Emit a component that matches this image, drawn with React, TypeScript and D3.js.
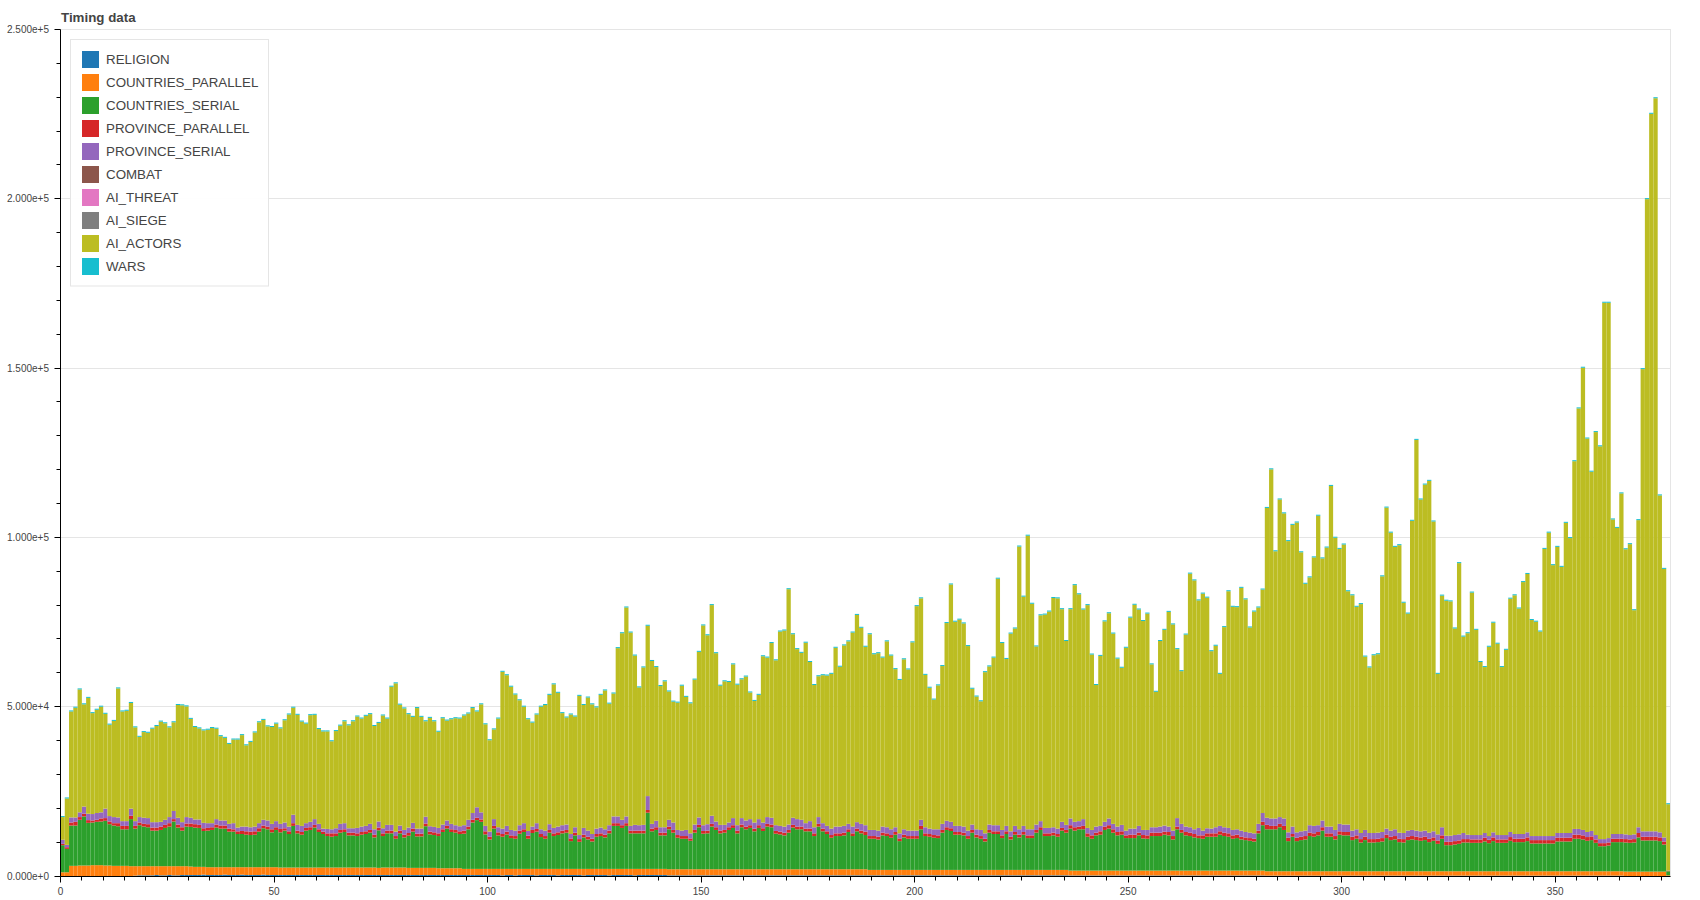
import React from "react";
import * as d3 from "d3";

const TITLE = "Timing data";
const SERIES_NAMES = [
  "RELIGION",
  "COUNTRIES_PARALLEL",
  "COUNTRIES_SERIAL",
  "PROVINCE_PARALLEL",
  "PROVINCE_SERIAL",
  "COMBAT",
  "AI_THREAT",
  "AI_SIEGE",
  "AI_ACTORS",
  "WARS",
];
const SERIES_COLORS = [
  "#1f77b4", "#ff7f0e", "#2ca02c", "#d62728", "#9467bd",
  "#8c564b", "#e377c2", "#7f7f7f", "#bcbd22", "#17becf",
];
const X_TICKS = [0, 50, 100, 150, 200, 250, 300, 350];
const Y_TICKS = [0, 50000, 100000, 150000, 200000, 250000];
const N_BARS = 377;

// all series values in thousands, one entry per bar (index 0..376)
const RELIGION = [
  0, 0, 0, 0, 0, 0, 0, 0, 0, 0,
  0, 0, 0, 0, 0, 0, 0, 0.1, 0.2, 0.2,
  0.2, 0.2, 0.3, 0.2, 0.2, 0.3, 0.2, 0.2, 0.3, 0.3,
  0.3, 0.3, 0.3, 0.4, 0.3, 0.3, 0.3, 0.3, 0.4, 0.3,
  0.3, 0.3, 0.4, 0.3, 0.3, 0.3, 0.3, 0.4, 0.3, 0.3,
  0.3, 0.3, 0.3, 0.3, 0.3, 0.3, 0.3, 0.3, 0.3, 0.3,
  0.3, 0.3, 0.3, 0.3, 0.3, 0.3, 0.3, 0.3, 0.3, 0.3,
  0.3, 0.3, 0.3, 0.3, 0.3, 0.3, 0.3, 0.3, 0.3, 0.3,
  0.3, 0.3, 0.3, 0.3, 0.3, 0.3, 0.3, 0.3, 0.3, 0.3,
  0.3, 0.3, 0.3, 0.3, 0.3, 0.3, 0.3, 0.3, 0.3, 0.3,
  0.3, 0.3, 0.3, 0.2, 0.3, 0.3, 0.2, 0.3, 0.3, 0.3,
  0.3, 0.2, 0.3, 0.3, 0.3, 0.3, 0.2, 0.3, 0.3, 0.3,
  0.3, 0.3, 0.2, 0.3, 0.3, 0.3, 0.3, 0.3, 0.2, 0.3,
  0.3, 0.3, 0.3, 0.3, 0.2, 0.3, 0.3, 0.3, 0.3, 0.3,
  0.3, 0.3, 0.2, 0.2, 0.2, 0.2, 0.2, 0.2, 0.2, 0.2,
  0.2, 0.2, 0.2, 0.2, 0.2, 0.2, 0.2, 0.2, 0.2, 0.2,
  0.2, 0.2, 0.2, 0.2, 0.2, 0.2, 0.2, 0.2, 0.2, 0.2,
  0.2, 0.2, 0.2, 0.2, 0.2, 0.2, 0.2, 0.2, 0.2, 0.2,
  0.2, 0.2, 0.2, 0.2, 0.2, 0.2, 0.2, 0.2, 0.2, 0.2,
  0.2, 0.2, 0.2, 0.2, 0.2, 0.2, 0.2, 0.2, 0.2, 0.2,
  0.2, 0.2, 0.2, 0.2, 0.2, 0.2, 0.2, 0.2, 0.2, 0.2,
  0.2, 0.2, 0.2, 0.2, 0.2, 0.2, 0.2, 0.2, 0.2, 0.2,
  0.2, 0.2, 0.2, 0.2, 0.2, 0.2, 0.2, 0.2, 0.2, 0.2,
  0.2, 0.2, 0.2, 0.2, 0.2, 0.2, 0.15, 0.15, 0.15, 0.15,
  0.15, 0.15, 0.15, 0.15, 0.15, 0.15, 0.15, 0.15, 0.15, 0.15,
  0.15, 0.15, 0.15, 0.15, 0.15, 0.15, 0.15, 0.15, 0.15, 0.15,
  0.15, 0.15, 0.15, 0.15, 0.15, 0.15, 0.15, 0.15, 0.15, 0.15,
  0.15, 0.15, 0.15, 0.15, 0.15, 0.15, 0.15, 0.15, 0.15, 0.15,
  0.15, 0.15, 0.1, 0.1, 0.1, 0.1, 0.1, 0.1, 0.1, 0.1,
  0.1, 0.1, 0.1, 0.1, 0.1, 0.1, 0.1, 0.1, 0.1, 0.1,
  0.1, 0.1, 0.1, 0.1, 0.1, 0.1, 0.1, 0.1, 0.1, 0.1,
  0.1, 0.1, 0.1, 0.1, 0.1, 0.1, 0.1, 0.1, 0.1, 0.1,
  0.1, 0.1, 0.1, 0.1, 0.1, 0.1, 0.1, 0.1, 0.1, 0.1,
  0.1, 0.1, 0.1, 0.1, 0.1, 0.1, 0.1, 0.1, 0.1, 0.1,
  0.1, 0.1, 0.1, 0.1, 0.1, 0.1, 0.1, 0.1, 0.1, 0.1,
  0.1, 0.1, 0.1, 0.1, 0.1, 0.1, 0.1, 0.1, 0.1, 0.1,
  0.1, 0.1, 0.1, 0.1, 0.1, 0.1, 0,
];

const COUNTRIES_PARALLEL = [
  1.1, 1.1, 3.0, 3.0, 3.1, 3.1, 3.1, 3.2, 3.2, 3.2,
  3.1, 3.1, 3.0, 3.0, 3.0, 3.0, 2.9, 2.8, 2.7, 2.7,
  2.7, 2.7, 2.6, 2.7, 2.7, 2.6, 2.7, 2.7, 2.6, 2.6,
  2.5, 2.4, 2.4, 2.3, 2.3, 2.3, 2.3, 2.3, 2.2, 2.3,
  2.3, 2.3, 2.2, 2.3, 2.3, 2.3, 2.3, 2.2, 2.3, 2.3,
  2.3, 2.2, 2.2, 2.2, 2.2, 2.2, 2.2, 2.2, 2.2, 2.2,
  2.2, 2.2, 2.2, 2.2, 2.2, 2.2, 2.2, 2.2, 2.2, 2.2,
  2.2, 2.2, 2.2, 2.2, 2.1, 2.2, 2.2, 2.2, 2.2, 2.2,
  2.2, 2.1, 2.1, 2.1, 2.1, 2.1, 2.1, 2.1, 2.0, 2.0,
  2.0, 2.0, 2.0, 2.0, 1.8, 1.8, 1.8, 1.8, 1.8, 1.8,
  1.8, 1.8, 1.8, 1.9, 1.8, 1.8, 1.9, 1.8, 1.8, 1.8,
  1.8, 1.9, 1.8, 1.8, 1.8, 1.8, 1.9, 1.8, 1.8, 1.8,
  1.8, 1.8, 1.9, 1.8, 1.8, 1.8, 1.8, 1.8, 1.9, 1.8,
  1.8, 1.8, 1.8, 1.8, 1.9, 1.8, 1.8, 1.8, 1.8, 1.8,
  1.8, 1.8, 1.8, 1.8, 1.8, 1.8, 1.8, 1.8, 1.8, 1.8,
  1.8, 1.8, 1.8, 1.8, 1.8, 1.8, 1.8, 1.8, 1.8, 1.8,
  1.8, 1.8, 1.8, 1.8, 1.8, 1.8, 1.8, 1.8, 1.8, 1.8,
  1.8, 1.8, 1.8, 1.8, 1.8, 1.8, 1.8, 1.8, 1.8, 1.8,
  1.8, 1.8, 1.8, 1.8, 1.8, 1.8, 1.8, 1.8, 1.8, 1.6,
  1.6, 1.6, 1.6, 1.6, 1.6, 1.6, 1.6, 1.6, 1.6, 1.6,
  1.6, 1.6, 1.6, 1.6, 1.6, 1.6, 1.6, 1.6, 1.6, 1.6,
  1.6, 1.6, 1.6, 1.6, 1.6, 1.6, 1.6, 1.6, 1.6, 1.6,
  1.6, 1.6, 1.6, 1.6, 1.6, 1.6, 1.6, 1.6, 1.6, 1.6,
  1.6, 1.6, 1.6, 1.6, 1.6, 1.6, 1.45, 1.45, 1.45, 1.45,
  1.45, 1.45, 1.45, 1.45, 1.45, 1.45, 1.45, 1.45, 1.45, 1.45,
  1.45, 1.45, 1.45, 1.45, 1.45, 1.45, 1.45, 1.45, 1.45, 1.45,
  1.45, 1.45, 1.45, 1.45, 1.45, 1.45, 1.45, 1.45, 1.45, 1.45,
  1.45, 1.45, 1.45, 1.45, 1.45, 1.45, 1.45, 1.45, 1.45, 1.45,
  1.45, 1.45, 1.3, 1.3, 1.3, 1.3, 1.3, 1.3, 1.3, 1.3,
  1.3, 1.3, 1.3, 1.3, 1.3, 1.3, 1.3, 1.3, 1.3, 1.3,
  1.3, 1.3, 1.3, 1.3, 1.3, 1.3, 1.3, 1.3, 1.3, 1.3,
  1.3, 1.3, 1.3, 1.3, 1.3, 1.3, 1.3, 1.3, 1.3, 1.3,
  1.3, 1.3, 1.3, 1.3, 1.3, 1.3, 1.3, 1.3, 1.3, 1.3,
  1.3, 1.3, 1.3, 1.3, 1.3, 1.3, 1.3, 1.3, 1.3, 1.3,
  1.3, 1.3, 1.3, 1.3, 1.3, 1.3, 1.3, 1.3, 1.3, 1.3,
  1.3, 1.3, 1.3, 1.3, 1.3, 1.3, 1.3, 1.3, 1.3, 1.3,
  1.3, 1.3, 1.3, 1.3, 1.3, 1.3, 1.3, 1.3, 1.3, 1.3,
  1.3, 1.3, 1.3, 1.3, 1.3, 1.3, 0.2,
];

const COUNTRIES_SERIAL = [
  8.0, 6.9, 11.9, 11.9, 13.5, 14.5, 12.6, 12.6, 12.8, 12.9,
  13.2, 12.2, 11.9, 11.7, 10.8, 10.8, 13.9, 11.1, 12.1, 11.7,
  11.5, 10.5, 10.5, 10.7, 11.3, 11.7, 13.2, 11.4, 10.5, 11.7,
  11.7, 11.6, 11.5, 10.6, 10.8, 11.0, 11.7, 11.4, 11.4, 10.5,
  10.5, 9.8, 9.8, 9.6, 9.5, 9.6, 10.5, 11.5, 11.2, 10.3,
  11.0, 10.4, 10.9, 9.9, 12.3, 10.1, 9.7, 10.9, 11.1, 11.8,
  10.5, 9.9, 9.3, 9.1, 9.3, 10.3, 10.5, 9.5, 9.5, 9.3,
  9.7, 9.9, 10.3, 8.9, 11.1, 9.3, 10.1, 10.1, 8.5, 10.1,
  8.9, 9.5, 10.7, 9.3, 9.3, 12.3, 9.9, 9.7, 9.5, 10.7,
  11.7, 10.7, 10.5, 10.1, 10.4, 11.7, 13.7, 14.4, 13.9, 10.2,
  8.7, 11.9, 9.9, 9.5, 10.1, 9.1, 8.9, 10.4, 10.9, 8.9,
  10.6, 11.0, 9.4, 8.9, 10.7, 9.7, 10.0, 10.5, 10.7, 8.2,
  9.9, 8.0, 9.3, 8.7, 8.1, 9.5, 9.7, 9.3, 10.5, 12.7,
  12.7, 12.1, 12.7, 10.5, 10.5, 10.5, 10.5, 16.6, 11.1, 11.5,
  9.9, 9.9, 11.8, 10.8, 9.3, 9.0, 9.0, 8.4, 10.8, 12.4,
  10.5, 10.6, 12.6, 11.6, 10.6, 10.8, 11.6, 12.2, 10.6, 12.4,
  11.8, 12.2, 11.2, 12.2, 11.3, 12.6, 12.4, 10.5, 10.3, 10.0,
  10.8, 12.3, 11.8, 11.8, 11.2, 11.2, 9.8, 12.6, 11.2, 10.4,
  9.3, 9.8, 9.8, 10.0, 11.0, 9.8, 11.2, 10.6, 10.1, 9.2,
  9.2, 9.0, 10.2, 10.0, 9.5, 10.4, 8.5, 9.6, 9.2, 9.2,
  9.2, 12.0, 10.0, 9.8, 9.5, 9.4, 11.0, 11.8, 11.5, 10.4,
  10.4, 10.2, 9.2, 11.0, 9.6, 9.2, 8.4, 11.0, 10.6, 10.6,
  9.4, 10.6, 9.0, 10.4, 9.6, 10.4, 9.4, 9.4, 11.0, 11.8,
  10.0, 10.0, 10.2, 9.8, 11.6, 11.0, 12.4, 11.8, 12.2, 12.2,
  10.0, 9.4, 10.4, 10.6, 12.0, 12.4, 11.2, 10.4, 10.6, 9.6,
  9.6, 9.6, 10.4, 9.5, 9.4, 10.2, 10.2, 10.2, 10.6, 10.4,
  9.2, 12.2, 11.2, 10.4, 10.2, 9.8, 9.6, 9.4, 10.0, 10.0,
  10.0, 10.6, 10.2, 10.0, 9.4, 9.6, 9.2, 9.0, 8.8, 8.6,
  11.0, 13.4, 12.4, 12.4, 12.4, 13.0, 12.2, 8.9, 10.2, 8.9,
  9.2, 9.4, 10.4, 10.2, 10.6, 12.0, 10.2, 10.2, 9.4, 10.8,
  10.6, 10.6, 9.2, 9.6, 8.5, 9.2, 8.5, 8.5, 8.6, 8.8,
  9.8, 9.2, 9.4, 8.6, 8.5, 9.2, 9.4, 9.2, 9.0, 9.2,
  8.6, 9.0, 8.1, 9.6, 7.7, 7.7, 7.9, 8.1, 8.5, 8.5,
  8.4, 8.4, 8.4, 8.8, 8.3, 8.9, 8.4, 8.4, 8.4, 9.0,
  8.6, 8.6, 8.6, 8.9, 8.2, 8.2, 8.2, 8.2, 8.2, 8.2,
  8.8, 8.8, 8.8, 8.8, 9.6, 9.6, 9.4, 9.0, 9.2, 8.4,
  7.4, 7.4, 7.6, 8.6, 8.6, 8.6, 8.6, 8.5, 8.6, 10.1,
  9.2, 9.2, 9.2, 9.2, 9.0, 8.0, 1.2,
];

const PROVINCE_PARALLEL = [
  0.4, 0.5, 0.9, 1.1, 0.8, 0.8, 0.8, 0.6, 0.6, 0.9,
  0.8, 0.8, 0.7, 0.9, 1.0, 1.0, 1.0, 0.8, 0.8, 0.8,
  0.9, 0.9, 0.9, 1.0, 0.9, 1.0, 0.7, 0.9, 1.0, 0.9,
  1.0, 1.0, 0.9, 0.8, 0.8, 0.8, 0.9, 0.9, 0.9, 0.9,
  0.7, 0.8, 0.9, 1.0, 1.0, 1.0, 1.0, 0.8, 0.8, 0.9,
  0.8, 1.0, 0.7, 0.8, 0.8, 0.8, 0.8, 0.8, 0.8, 0.8,
  0.8, 0.7, 0.8, 1.0, 0.8, 0.8, 0.8, 0.8, 0.8, 0.8,
  0.8, 0.8, 0.8, 0.8, 0.8, 0.8, 0.8, 0.8, 0.8, 0.8,
  0.8, 0.8, 0.9, 0.8, 0.8, 0.8, 0.8, 0.8, 0.8, 0.8,
  0.8, 0.8, 0.8, 0.8, 0.9, 0.8, 0.8, 0.7, 0.7, 0.9,
  0.8, 0.8, 0.9, 0.8, 0.9, 0.8, 0.8, 0.9, 0.8, 0.9,
  0.9, 0.8, 0.9, 0.8, 0.8, 0.8, 0.8, 0.8, 0.8, 0.8,
  0.8, 0.8, 0.8, 0.8, 0.8, 0.8, 0.8, 0.8, 0.8, 0.8,
  0.8, 0.8, 0.8, 0.8, 0.8, 0.8, 0.8, 0.8, 0.8, 0.8,
  0.8, 0.8, 0.8, 0.8, 0.8, 0.8, 0.8, 0.7, 0.8, 0.7,
  0.8, 0.8, 0.8, 0.8, 0.8, 0.8, 0.8, 0.8, 0.8, 0.8,
  0.8, 0.8, 0.8, 0.8, 0.8, 0.8, 0.8, 0.8, 0.8, 0.8,
  0.8, 0.8, 0.8, 0.8, 0.8, 0.8, 0.8, 0.8, 0.8, 0.8,
  0.8, 0.8, 0.8, 0.8, 0.8, 0.8, 0.8, 0.8, 1.0, 0.8,
  0.8, 0.8, 0.8, 0.8, 0.8, 0.8, 0.8, 0.8, 0.8, 0.8,
  0.8, 1.0, 0.8, 0.8, 0.8, 0.8, 0.8, 0.8, 0.8, 0.8,
  0.8, 0.8, 0.8, 0.8, 0.8, 0.8, 0.8, 0.8, 0.8, 0.8,
  0.8, 0.8, 0.8, 0.8, 0.8, 0.8, 0.8, 0.8, 0.8, 0.8,
  0.8, 0.8, 0.8, 0.8, 0.8, 0.8, 1.0, 1.0, 0.8, 1.0,
  1.0, 1.0, 0.8, 1.0, 1.0, 1.0, 1.0, 1.0, 1.0, 0.8,
  1.0, 1.0, 0.8, 1.0, 1.0, 1.0, 1.0, 1.0, 0.9, 1.0,
  1.0, 0.8, 0.8, 1.0, 1.0, 1.0, 0.8, 1.0, 1.0, 1.0,
  1.0, 1.0, 1.0, 1.0, 1.0, 1.0, 0.8, 0.8, 0.8, 0.8,
  0.8, 1.0, 1.3, 1.0, 1.0, 1.0, 1.2, 1.0, 0.8, 1.0,
  1.0, 1.0, 1.0, 1.0, 1.0, 1.0, 1.0, 1.0, 1.0, 1.0,
  1.0, 1.0, 1.0, 1.0, 1.0, 1.0, 1.0, 1.0, 1.0, 1.0,
  1.0, 1.0, 1.0, 1.0, 1.0, 1.0, 1.0, 1.0, 1.0, 1.0,
  1.0, 1.0, 1.0, 1.0, 1.0, 1.0, 1.0, 1.0, 1.0, 1.0,
  1.0, 1.0, 1.0, 1.1, 1.0, 1.1, 1.0, 1.0, 1.0, 1.1,
  1.0, 1.0, 1.0, 1.1, 1.0, 1.0, 1.0, 1.0, 1.0, 1.0,
  1.1, 1.1, 1.1, 1.1, 1.2, 1.2, 1.2, 1.1, 1.1, 1.0,
  0.9, 0.9, 0.9, 1.0, 1.0, 1.0, 1.0, 1.0, 1.0, 1.3,
  1.1, 1.1, 1.1, 1.1, 1.1, 0.9, 0.1,
];

const PROVINCE_SERIAL = [
  1.2, 0.7, 1.5, 1.3, 1.4, 2.1, 1.9, 1.9, 2.0, 1.8,
  2.8, 1.6, 1.8, 1.7, 1.4, 1.4, 2.1, 1.4, 1.6, 1.8,
  1.8, 1.6, 1.6, 1.4, 1.5, 1.8, 2.4, 2.0, 1.5, 1.9,
  1.7, 1.4, 1.6, 1.6, 1.4, 1.2, 1.6, 1.5, 1.5, 1.4,
  1.8, 1.1, 1.3, 1.4, 1.3, 1.4, 1.5, 1.7, 1.8, 1.6,
  1.8, 1.5, 1.7, 1.4, 2.5, 1.7, 1.8, 1.4, 1.6, 1.7,
  1.6, 0.9, 1.3, 1.2, 1.5, 1.8, 1.8, 1.3, 1.3, 1.6,
  1.6, 1.6, 1.8, 1.6, 1.8, 1.5, 1.7, 1.7, 1.3, 1.5,
  1.4, 1.6, 1.7, 1.5, 1.5, 2.0, 1.6, 1.6, 1.6, 1.4,
  1.6, 1.6, 1.4, 1.5, 1.6, 2.0, 2.0, 3.1, 2.1, 1.6,
  1.5, 2.0, 1.5, 1.6, 1.7, 1.6, 1.6, 1.6, 1.8, 1.4,
  1.0, 1.7, 1.4, 1.6, 1.7, 1.6, 1.7, 1.6, 1.6, 1.3,
  1.6, 1.2, 2.0, 1.8, 1.4, 1.6, 1.7, 1.6, 1.6, 2.0,
  2.0, 1.6, 2.0, 1.4, 1.7, 1.6, 1.7, 4.1, 1.4, 1.9,
  1.6, 1.6, 2.0, 2.2, 1.5, 1.6, 1.8, 1.5, 1.6, 2.2,
  1.7, 1.9, 2.4, 1.7, 1.7, 1.5, 1.4, 2.1, 1.6, 1.9,
  1.8, 1.8, 1.8, 1.8, 1.7, 2.0, 2.0, 1.7, 1.7, 1.8,
  1.6, 2.1, 2.2, 2.0, 1.6, 2.2, 1.8, 2.0, 1.6, 1.6,
  1.9, 2.0, 2.0, 2.0, 1.6, 2.0, 1.9, 2.0, 1.9, 1.8,
  1.8, 1.8, 1.8, 1.8, 1.7, 1.4, 1.5, 1.6, 1.6, 1.6,
  1.6, 1.8, 1.8, 1.6, 1.7, 1.8, 1.8, 1.9, 1.9, 1.8,
  1.8, 1.8, 1.6, 1.6, 1.6, 1.8, 1.6, 1.6, 1.8, 1.8,
  1.6, 1.6, 1.6, 1.8, 1.6, 1.8, 1.8, 1.8, 1.6, 1.8,
  1.6, 1.6, 1.6, 1.6, 1.8, 1.5, 2.0, 1.6, 1.6, 2.0,
  1.6, 1.6, 1.8, 1.6, 1.4, 2.0, 1.6, 1.6, 1.9, 1.4,
  1.8, 1.8, 2.0, 1.5, 1.6, 1.6, 1.6, 1.8, 1.8, 1.6,
  1.6, 2.5, 1.8, 1.6, 1.6, 1.4, 2.2, 1.4, 1.5, 1.4,
  1.8, 1.6, 1.6, 1.6, 1.6, 1.6, 1.8, 1.6, 1.6, 1.6,
  2.0, 2.6, 2.1, 2.2, 2.2, 2.0, 2.2, 1.6, 2.2, 1.6,
  1.6, 1.6, 2.2, 2.2, 2.0, 2.0, 2.0, 2.0, 1.8, 2.2,
  2.2, 2.2, 1.8, 1.8, 1.8, 2.0, 1.8, 1.8, 1.8, 1.8,
  1.8, 1.8, 2.0, 1.8, 1.8, 1.8, 1.8, 1.8, 1.8, 1.8,
  1.8, 1.8, 1.8, 2.4, 1.8, 1.8, 1.8, 1.8, 1.8, 1.3,
  1.3, 1.3, 1.3, 1.4, 1.1, 1.5, 1.3, 1.3, 1.3, 1.5,
  1.4, 1.4, 1.4, 1.5, 1.2, 1.2, 1.2, 1.2, 1.2, 1.2,
  1.4, 1.4, 1.4, 1.4, 1.7, 1.7, 1.6, 1.5, 1.6, 1.3,
  1.2, 1.2, 1.3, 1.4, 1.4, 1.4, 1.4, 1.3, 1.4, 1.7,
  1.6, 1.6, 1.6, 1.6, 1.5, 1.2, 0.1,
];

const COMBAT = [
  0, 0, 0, 0, 0, 0, 0, 0, 0, 0, 0, 0, 0, 0, 0, 0, 0, 0, 0, 0,
  0, 0, 0, 0, 0, 0, 0, 0, 0, 0, 0, 0, 0, 0, 0, 0, 0, 0, 0, 0,
  0, 0, 0, 0, 0, 0, 0, 0, 0, 0, 0, 0, 0, 0, 0, 0, 0, 0, 0, 0,
  0, 0, 0, 0, 0, 0, 0, 0, 0, 0, 0, 0, 0, 0, 0, 0, 0, 0, 0, 0,
  0, 0, 0, 0, 0, 0, 0, 0, 0, 0, 0, 0, 0, 0, 0, 0, 0, 0, 0, 0,
  0, 0, 0, 0, 0, 0, 0, 0, 0, 0, 0, 0, 0, 0, 0, 0, 0, 0, 0, 0,
  0, 0, 0, 0, 0, 0, 0, 0, 0, 0, 0, 0, 0, 0, 0, 0, 0, 0, 0, 0,
  0, 0, 0, 0, 0, 0, 0, 0, 0, 0, 0, 0, 0, 0, 0, 0, 0, 0, 0, 0,
  0, 0, 0, 0, 0, 0, 0, 0, 0, 0, 0, 0, 0, 0, 0, 0, 0, 0, 0, 0,
  0, 0, 0, 0, 0, 0, 0, 0, 0, 0, 0, 0, 0, 0, 0, 0, 0, 0, 0, 0,
  0, 0, 0, 0, 0, 0, 0, 0, 0, 0, 0, 0, 0, 0, 0, 0, 0, 0, 0, 0,
  0, 0, 0, 0, 0, 0, 0, 0, 0, 0, 0, 0, 0, 0, 0, 0, 0, 0, 0, 0,
  0, 0, 0, 0, 0, 0, 0, 0, 0, 0, 0, 0, 0, 0, 0, 0, 0, 0, 0, 0,
  0, 0, 0, 0, 0, 0, 0, 0, 0, 0, 0, 0, 0, 0, 0, 0, 0, 0, 0, 0,
  0, 0, 0, 0, 0, 0, 0, 0, 0, 0, 0, 0, 0, 0, 0, 0, 0, 0, 0, 0,
  0, 0, 0, 0, 0, 0, 0, 0, 0, 0, 0, 0, 0, 0, 0, 0, 0, 0, 0, 0,
  0, 0, 0, 0, 0, 0, 0, 0, 0, 0, 0, 0, 0, 0, 0, 0, 0, 0, 0, 0,
  0, 0, 0, 0, 0, 0, 0, 0, 0, 0, 0, 0, 0, 0, 0, 0, 0, 0, 0, 0,
  0, 0, 0, 0, 0, 0, 0, 0, 0, 0, 0, 0, 0, 0, 0, 0, 0,
];
const AI_THREAT = COMBAT.slice();
const AI_SIEGE = COMBAT.slice();

const AI_ACTORS = [
  6.7, 13.7, 31.3, 32.4, 36.3, 30.2, 34.2, 29.8, 30.5, 31.2,
  28.0, 27.0, 28.4, 38.1, 32.4, 32.6, 31.2, 27.7, 23.7, 25.3,
  25.2, 27.6, 28.4, 29.6, 28.5, 26.5, 26.2, 33.3, 34.5, 32.7,
  29.2, 27.3, 26.9, 27.3, 27.6, 28.1, 26.7, 24.9, 24.4, 23.6,
  24.7, 26.0, 27.0, 24.0, 25.2, 27.8, 29.8, 29.5, 27.8, 28.6,
  28.8, 28.2, 30.2, 33.1, 31.6, 32.5, 30.8, 29.4, 31.5, 30.8,
  28.0, 28.7, 28.8, 26.0, 28.7, 29.0, 30.1, 30.4, 31.6, 32.9,
  31.9, 32.5, 32.4, 30.5, 29.1, 33.3, 31.4, 40.8, 43.8, 35.7,
  35.9, 33.5, 31.3, 35.6, 33.0, 28.2, 32.0, 31.2, 28.4, 31.4,
  29.5, 30.9, 31.6, 31.8, 32.4, 31.4, 31.0, 28.3, 31.9, 30.0,
  27.0, 26.5, 32.1, 46.3, 44.5, 42.3, 40.2, 36.9, 34.4, 33.0,
  30.7, 32.1, 36.2, 37.1, 38.2, 42.4, 39.5, 33.1, 31.6, 35.3,
  32.7, 41.1, 36.3, 39.3, 38.3, 35.8, 39.2, 41.0, 35.9, 36.3,
  49.7, 55.1, 61.7, 57.1, 50.0, 40.7, 46.5, 50.3, 48.1, 45.4,
  41.7, 43.1, 37.9, 35.7, 37.6, 42.8, 39.3, 38.4, 42.8, 48.9,
  59.0, 55.8, 62.2, 49.7, 41.1, 42.4, 41.5, 45.4, 41.5, 41.0,
  42.5, 37.4, 35.9, 36.7, 49.1, 47.1, 51.6, 48.7, 57.4, 57.9,
  69.5, 54.2, 50.2, 49.3, 53.3, 47.0, 42.0, 41.6, 43.7, 44.4,
  45.7, 52.8, 47.2, 53.3, 53.9, 57.3, 61.2, 57.9, 52.7, 57.8,
  51.9, 52.4, 49.9, 54.9, 51.3, 46.7, 45.3, 50.2, 47.6, 55.6,
  66.3, 65.4, 45.0, 41.6, 38.3, 42.5, 46.6, 58.4, 70.1, 60.3,
  60.9, 60.0, 54.5, 40.1, 39.2, 38.0, 47.6, 46.7, 49.5, 72.8,
  55.2, 49.3, 58.4, 58.3, 83.5, 67.7, 86.7, 66.6, 52.6, 60.8,
  63.0, 63.9, 67.7, 68.0, 62.8, 54.3, 61.8, 69.9, 67.0, 61.9,
  65.8, 51.8, 41.8, 50.2, 59.2, 60.6, 56.2, 49.6, 46.4, 54.0,
  62.3, 66.1, 63.9, 61.7, 63.9, 48.1, 40.0, 54.8, 57.8, 63.4,
  60.9, 49.9, 45.1, 56.7, 74.9, 73.5, 67.2, 70.0, 68.1, 52.4,
  53.6, 44.9, 59.1, 69.9, 65.9, 65.6, 71.7, 68.7, 60.6, 65.5,
  63.9, 66.0, 91.5, 103.1, 78.9, 93.8, 90.1, 86.0, 89.1, 91.5,
  82.4, 72.9, 73.2, 79.3, 91.4, 77.4, 82.4, 100.6, 86.3, 81.2,
  82.7, 68.9, 69.5, 65.7, 67.6, 51.2, 48.9, 52.5, 52.7, 75.5,
  94.8, 88.0, 83.4, 84.9, 68.0, 64.1, 91.3, 115.4, 98.0, 102.2,
  103.9, 91.5, 47.4, 68.4, 69.4, 69.2, 61.0, 80.1, 58.0, 59.5,
  71.6, 60.6, 51.1, 49.0, 55.9, 61.9, 56.5, 49.6, 54.7, 68.9,
  70.5, 66.6, 74.4, 76.3, 63.8, 63.3, 60.4, 84.8, 89.6, 80.0,
  84.5, 78.6, 91.6, 87.1, 108.6, 124.2, 136.5, 116.2, 106.1, 119.0,
  116.0, 158.4, 158.1, 92.9, 90.4, 100.6, 84.2, 85.9, 66.2, 90.7,
  136.5, 186.7, 211.9, 216.5, 99.5, 79.3, 19.6,
];

const WARS = [
  0.3, 0.3, 0.3, 0.3, 0.3, 0.3, 0.3, 0.3, 0.3, 0.3, 0.3, 0.3, 0.3, 0.3, 0.3, 0.3, 0.3, 0.3, 0.3, 0.3,
  0.3, 0.3, 0.3, 0.3, 0.3, 0.3, 0.3, 0.3, 0.3, 0.3, 0.3, 0.3, 0.3, 0.3, 0.3, 0.3, 0.3, 0.3, 0.3, 0.3,
  0.3, 0.3, 0.3, 0.3, 0.3, 0.3, 0.3, 0.3, 0.3, 0.3, 0.3, 0.3, 0.3, 0.3, 0.3, 0.3, 0.3, 0.3, 0.3, 0.3,
  0.3, 0.3, 0.3, 0.3, 0.3, 0.3, 0.3, 0.3, 0.3, 0.3, 0.3, 0.3, 0.3, 0.3, 0.3, 0.3, 0.3, 0.3, 0.3, 0.3,
  0.3, 0.3, 0.3, 0.3, 0.3, 0.3, 0.3, 0.3, 0.3, 0.3, 0.3, 0.3, 0.3, 0.3, 0.3, 0.3, 0.3, 0.3, 0.3, 0.3,
  0.3, 0.3, 0.3, 0.3, 0.3, 0.3, 0.3, 0.3, 0.3, 0.3, 0.3, 0.3, 0.3, 0.3, 0.3, 0.3, 0.3, 0.3, 0.3, 0.3,
  0.3, 0.3, 0.3, 0.3, 0.3, 0.3, 0.3, 0.3, 0.3, 0.3, 0.3, 0.3, 0.3, 0.3, 0.3, 0.3, 0.3, 0.3, 0.3, 0.3,
  0.3, 0.3, 0.3, 0.3, 0.3, 0.3, 0.3, 0.3, 0.3, 0.3, 0.3, 0.3, 0.3, 0.3, 0.3, 0.3, 0.3, 0.3, 0.3, 0.3,
  0.3, 0.3, 0.3, 0.3, 0.3, 0.3, 0.3, 0.3, 0.3, 0.3, 0.3, 0.3, 0.3, 0.3, 0.3, 0.3, 0.3, 0.3, 0.3, 0.3,
  0.3, 0.3, 0.3, 0.3, 0.3, 0.3, 0.3, 0.3, 0.3, 0.3, 0.3, 0.3, 0.3, 0.3, 0.3, 0.3, 0.3, 0.3, 0.3, 0.3,
  0.3, 0.3, 0.3, 0.3, 0.3, 0.3, 0.3, 0.3, 0.3, 0.3, 0.3, 0.3, 0.3, 0.3, 0.3, 0.3, 0.3, 0.3, 0.3, 0.3,
  0.3, 0.3, 0.3, 0.3, 0.3, 0.3, 0.3, 0.3, 0.3, 0.3, 0.3, 0.3, 0.3, 0.3, 0.3, 0.3, 0.3, 0.3, 0.3, 0.3,
  0.3, 0.3, 0.3, 0.3, 0.3, 0.3, 0.3, 0.3, 0.3, 0.3, 0.3, 0.3, 0.3, 0.3, 0.3, 0.3, 0.3, 0.3, 0.3, 0.3,
  0.3, 0.3, 0.3, 0.3, 0.3, 0.3, 0.3, 0.3, 0.3, 0.3, 0.3, 0.3, 0.3, 0.3, 0.3, 0.3, 0.3, 0.3, 0.3, 0.3,
  0.3, 0.3, 0.3, 0.3, 0.3, 0.3, 0.3, 0.3, 0.3, 0.3, 0.3, 0.3, 0.3, 0.3, 0.3, 0.3, 0.3, 0.3, 0.3, 0.3,
  0.3, 0.3, 0.3, 0.3, 0.3, 0.3, 0.3, 0.3, 0.3, 0.3, 0.3, 0.3, 0.3, 0.3, 0.3, 0.3, 0.3, 0.3, 0.3, 0.3,
  0.3, 0.3, 0.3, 0.3, 0.3, 0.3, 0.3, 0.3, 0.3, 0.3, 0.3, 0.3, 0.3, 0.3, 0.3, 0.3, 0.3, 0.3, 0.3, 0.3,
  0.3, 0.3, 0.3, 0.3, 0.3, 0.3, 0.3, 0.3, 0.3, 0.3, 0.3, 0.3, 0.3, 0.3, 0.3, 0.3, 0.3, 0.3, 0.3, 0.3,
  0.3, 0.3, 0.3, 0.3, 0.3, 0.3, 0.3, 0.3, 0.3, 0.3, 0.3, 0.3, 0.3, 0.3, 0.3, 0.3, 0.3,
];

const SERIES_VALUES = [
  RELIGION, COUNTRIES_PARALLEL, COUNTRIES_SERIAL, PROVINCE_PARALLEL, PROVINCE_SERIAL,
  COMBAT, AI_THREAT, AI_SIEGE, AI_ACTORS, WARS,
];

const FONT = "'Liberation Sans', Arial, Helvetica, sans-serif";
const TEXT_COLOR = "#444444";
const GRID_COLOR = "#e5e5e5";

export default function App() {
  const W = 1700;
  const H = 900;
  const L = 60.5;
  const R = 1670.5;
  const T = 29.5;
  const B = 876;

  const x = d3.scaleLinear().domain([0, N_BARS]).range([L, R]);
  const y = d3.scaleLinear().domain([0, 250000]).range([B, T]);

  const rows = d3.range(N_BARS).map((i) => {
    const r: any = { idx: i };
    SERIES_NAMES.forEach((k, s) => {
      const v = SERIES_VALUES[s][i];
      r[k] = (typeof v === "number" && isFinite(v) ? v : 0) * 1000;
    });
    return r;
  });
  const stacked = d3.stack<any>().keys(SERIES_NAMES)(rows);

  const snap = (v: number) => Math.floor(v) + 0.5;
  const yMinor = d3.range(0, 250001, 10000).filter((v) => v % 50000 !== 0);
  const xMinor = d3.range(0, N_BARS + 1, 5).filter((v) => v % 50 !== 0);
  const fmtY = (v: number) => v.toExponential(3);

  return (
    <svg
      width={W}
      height={H}
      style={{ position: "absolute", left: 0, top: 0, display: "block" }}
      fontFamily={FONT}
    >
      <rect x={0} y={0} width={W} height={H} fill="#ffffff" />

      {/* horizontal grid */}
      {Y_TICKS.map((v) => (
        <line
          key={"g" + v}
          x1={L}
          x2={R}
          y1={snap(y(v))}
          y2={snap(y(v))}
          stroke={GRID_COLOR}
          strokeWidth={1}
        />
      ))}

      {/* stacked bars */}
      {stacked.map((layer, s) => (
        <g key={SERIES_NAMES[s]} fill={SERIES_COLORS[s]}>
          {layer.map((d, i) => {
            const y0 = y(d[0]);
            const y1 = y(d[1]);
            const h = y0 - y1;
            if (!(h > 0)) return null;
            return (
              <rect
                key={i}
                x={x(i)}
                y={y1}
                width={x(i + 1) - x(i)}
                height={h}
              />
            );
          })}
        </g>
      ))}

      {/* frame outline */}
      <rect
        x={L}
        y={T}
        width={R - L}
        height={B + 0.5 - T}
        fill="none"
        stroke={GRID_COLOR}
        strokeWidth={1}
      />

      {/* y axis */}
      <line x1={L} x2={L} y1={T} y2={B + 0.5} stroke="#000" strokeWidth={1} />
      {Y_TICKS.map((v) => (
        <g key={"yt" + v}>
          <line
            x1={L - 6}
            x2={L}
            y1={snap(y(v))}
            y2={snap(y(v))}
            stroke="#000"
            strokeWidth={1}
          />
          <text
            x={49}
            y={y(v)}
            textAnchor="end"
            dominantBaseline="central"
            fontSize={10}
            fill={TEXT_COLOR}
          >
            {fmtY(v)}
          </text>
        </g>
      ))}
      {yMinor.map((v) => (
        <line
          key={"ym" + v}
          x1={L - 4}
          x2={L}
          y1={snap(y(v))}
          y2={snap(y(v))}
          stroke="#000"
          strokeWidth={1}
        />
      ))}

      {/* x axis */}
      <line x1={L} x2={R} y1={B + 0.5} y2={B + 0.5} stroke="#000" strokeWidth={1} />
      {X_TICKS.map((v) => (
        <g key={"xt" + v}>
          <line
            x1={snap(x(v))}
            x2={snap(x(v))}
            y1={B + 0.5}
            y2={B + 6.5}
            stroke="#000"
            strokeWidth={1}
          />
          <text
            x={x(v)}
            y={895}
            textAnchor="middle"
            fontSize={10}
            fill={TEXT_COLOR}
          >
            {v}
          </text>
        </g>
      ))}
      {xMinor.map((v) => (
        <line
          key={"xm" + v}
          x1={snap(x(v))}
          x2={snap(x(v))}
          y1={B + 0.5}
          y2={B + 4.5}
          stroke="#000"
          strokeWidth={1}
        />
      ))}

      {/* title */}
      <text x={61} y={22} fontSize={13.33} fontWeight="bold" fill={TEXT_COLOR}>
        {TITLE}
      </text>

      {/* legend */}
      <g>
        <rect
          x={70.5}
          y={39.5}
          width={198}
          height={246.5}
          fill="#ffffff"
          fillOpacity={0.95}
          stroke={GRID_COLOR}
          strokeWidth={1}
        />
        {SERIES_NAMES.map((name, k) => (
          <g key={"lg" + name}>
            <rect x={82} y={51 + 23 * k} width={17} height={17} fill={SERIES_COLORS[k]} />
            <text
              x={106}
              y={59.5 + 23 * k}
              dominantBaseline="central"
              fontSize={13.33}
              fill={TEXT_COLOR}
            >
              {name}
            </text>
          </g>
        ))}
      </g>
    </svg>
  );
}
